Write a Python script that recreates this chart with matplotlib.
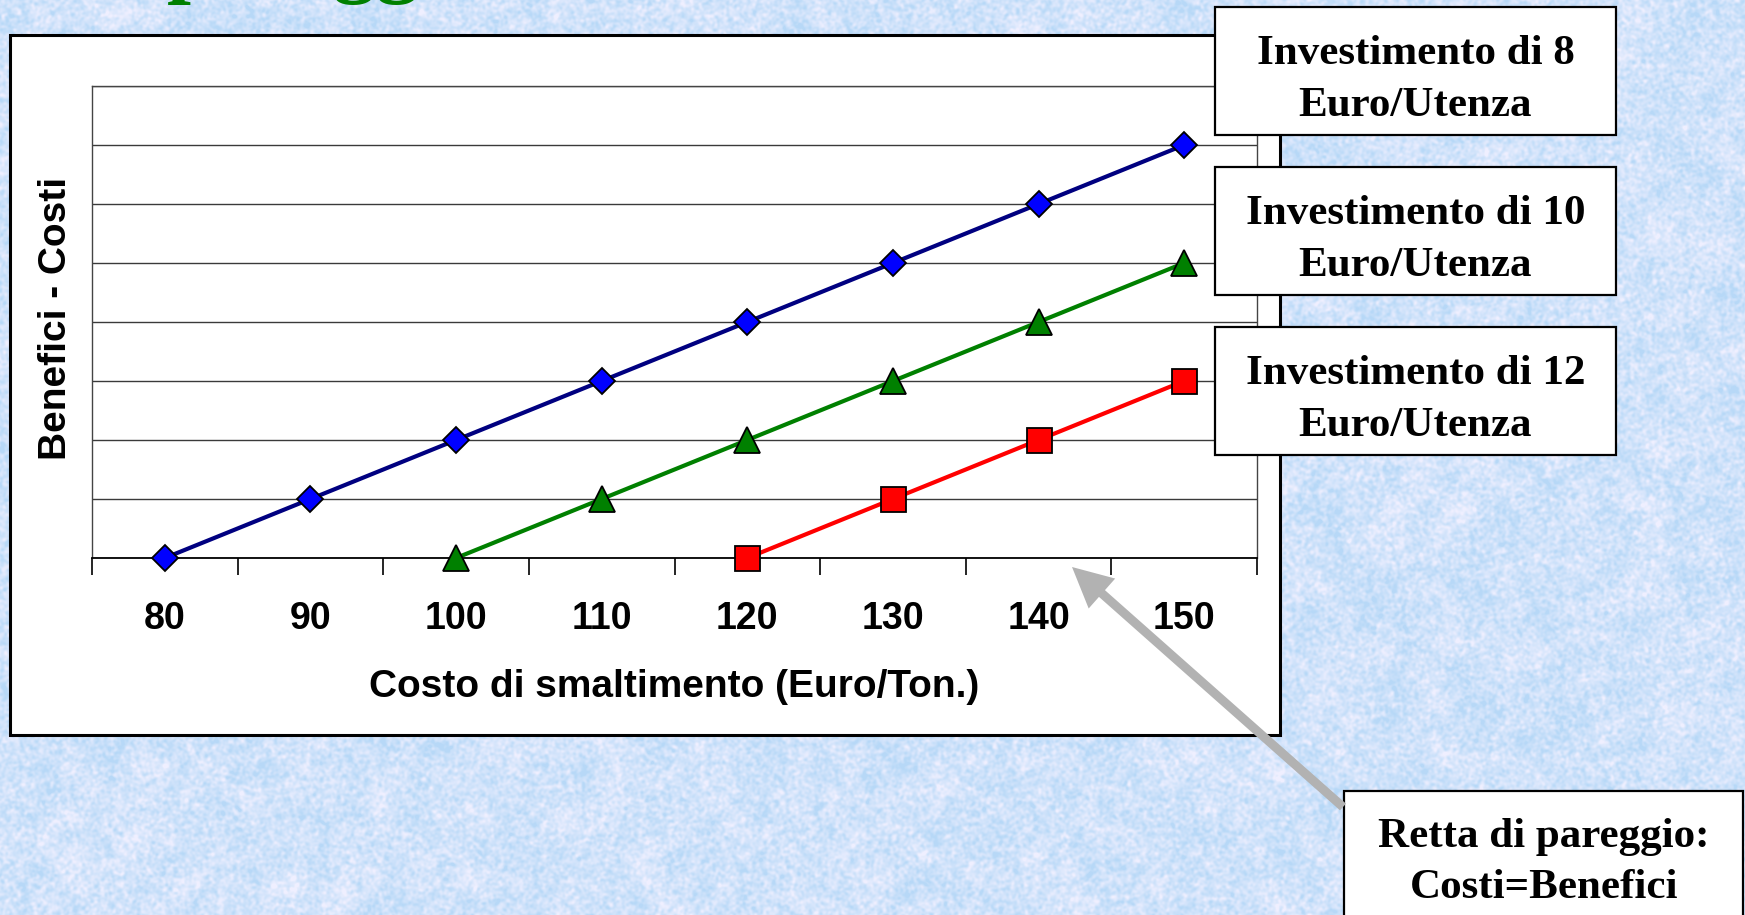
import numpy as np
import matplotlib
matplotlib.use("Agg")
import matplotlib.pyplot as plt
from matplotlib.patches import Rectangle, FancyArrow
from matplotlib.transforms import Affine2D

# disposal cost (Euro/Ton.) and benefit - cost for each investment level
costo = [80, 90, 100, 110, 120, 130, 140, 150]
inv_8 = [0, 1, 2, 3, 4, 5, 6, 7]
inv_10 = [np.nan, np.nan, 0, 1, 2, 3, 4, 5]
inv_12 = [np.nan, np.nan, np.nan, np.nan, 0, 1, 2, 3]

legend_labels = [("Investimento di 8", "Euro/Utenza"),
                 ("Investimento di 10", "Euro/Utenza"),
                 ("Investimento di 12", "Euro/Utenza")]

W, H = 1745, 915
fig = plt.figure(figsize=(W / 100, H / 100), dpi=100)
# pixel coordinates, origin at top-left
px = Affine2D().scale(1 / W, -1 / H).translate(0, 1) + fig.transFigure

# light blue paper texture for the slide background
rng = np.random.default_rng(3)
fy = np.fft.fftfreq(H)[:, None]
fx = np.fft.fftfreq(W)[None, :]


def blur(a, s):
    k = np.exp(-2 * (np.pi * s) ** 2 * (fx ** 2 + fy ** 2))
    out = np.real(np.fft.ifft2(np.fft.fft2(a) * k))
    return (out - out.mean()) / out.std()


noise = rng.random((H, W))
tex = 0.25 * blur(noise, 10) + 0.75 * blur(noise, 1.3)
tex = np.clip(0.45 + 0.2 * tex / tex.std(), 0, 1)
low = np.array([0.72, 0.85, 0.97])
high = np.array([0.94, 0.94, 1.0])
fig.figimage(low + (high - low) * tex[..., None], 0, 0, zorder=0)

# slide title (only the bottom of it shows)
fig.text(486, -14, "Il punto di pareggio", transform=px, ha="right", va="baseline",
         fontsize=62, fontweight="bold", family="Liberation Serif", color="#008000")

# white chart frame
fig.add_artist(Rectangle((10.5, 34.5), 1269.5, 700.5, transform=px, facecolor="white",
                         edgecolor="black", lw=2.2, zorder=1))

ax = fig.add_axes([92 / W, 1 - 558 / H, (1257 - 92) / W, (558 - 86) / H])
ax.set_zorder(2)
ax.set_facecolor("white")

ax.plot(costo, inv_8, color="#000080", lw=3.0, marker="D", ms=13.5, mfc="#0000ff",
        mec="black", mew=1.3, clip_on=False, zorder=3)
ax.plot(costo, inv_10, color="#008000", lw=3.0, marker="^", ms=19, mfc="#008000",
        mec="black", mew=1.3, clip_on=False, zorder=3)
ax.plot(costo, inv_12, color="#ff0000", lw=3.0, marker="s", ms=18, mfc="#ff0000",
        mec="black", mew=1.3, clip_on=False, zorder=3)

ax.set_xlim(75, 155)
ax.set_xticks(np.arange(75, 156, 10))
ax.set_xticklabels([])
ax.tick_params(axis="x", which="major", length=12, width=1.2, direction="out", color="black")
ax.set_xticks(costo, minor=True)
ax.set_xticklabels([str(c) for c in costo], minor=True, fontsize=27, fontweight="bold",
                   family="Liberation Sans")
ax.tick_params(axis="x", which="minor", length=0, pad=31)

ax.set_ylim(0, 8)
ax.set_yticks(range(9))
ax.set_yticklabels([])
ax.tick_params(axis="y", length=0)
ax.yaxis.grid(True, color="#3a3a3a", lw=1.0)
ax.set_axisbelow(True)
for side in ["top", "left", "right"]:
    ax.spines[side].set_color("#444444")
    ax.spines[side].set_linewidth(1.0)
ax.spines["bottom"].set_color("black")
ax.spines["bottom"].set_linewidth(1.3)

fig.text(56, 318, "Benefici - Costi", transform=px, rotation=90, ha="center", va="center",
         fontsize=28, fontweight="bold", family="Liberation Sans")
fig.text(674, 687, "Costo di smaltimento (Euro/Ton.)", transform=px, ha="center", va="center",
         fontsize=28, fontweight="bold", family="Liberation Sans")

# series labels in boxes beside the chart
box_tops = [7, 167, 327]
for top, (l1, l2) in zip(box_tops, legend_labels):
    fig.add_artist(Rectangle((1215, top), 401, 128, transform=px, facecolor="white",
                             edgecolor="black", lw=1.6, zorder=3))
    for dy, line in [(57, l1), (109, l2)]:
        fig.text(1415.5, top + dy, line, transform=px, ha="center", va="baseline",
                 fontsize=31, fontweight="bold", family="Liberation Serif", zorder=5)

# break-even note with arrow
fig.add_artist(FancyArrow(1343, 807, 1072 - 1343, 567 - 807, width=9, head_width=40,
                          head_length=40, length_includes_head=True, transform=px,
                          color="#b2b2b2", lw=0, zorder=4))
fig.add_artist(Rectangle((1344, 791), 399, 170, transform=px, facecolor="white",
                         edgecolor="black", lw=1.6, zorder=3))
for y, line in [(847, "Retta di pareggio:"), (898, "Costi=Benefici")]:
    fig.text(1544, y, line, transform=px, ha="center", va="baseline",
             fontsize=31, fontweight="bold", family="Liberation Serif", zorder=5)

fig.savefig("out.png", dpi=100)
